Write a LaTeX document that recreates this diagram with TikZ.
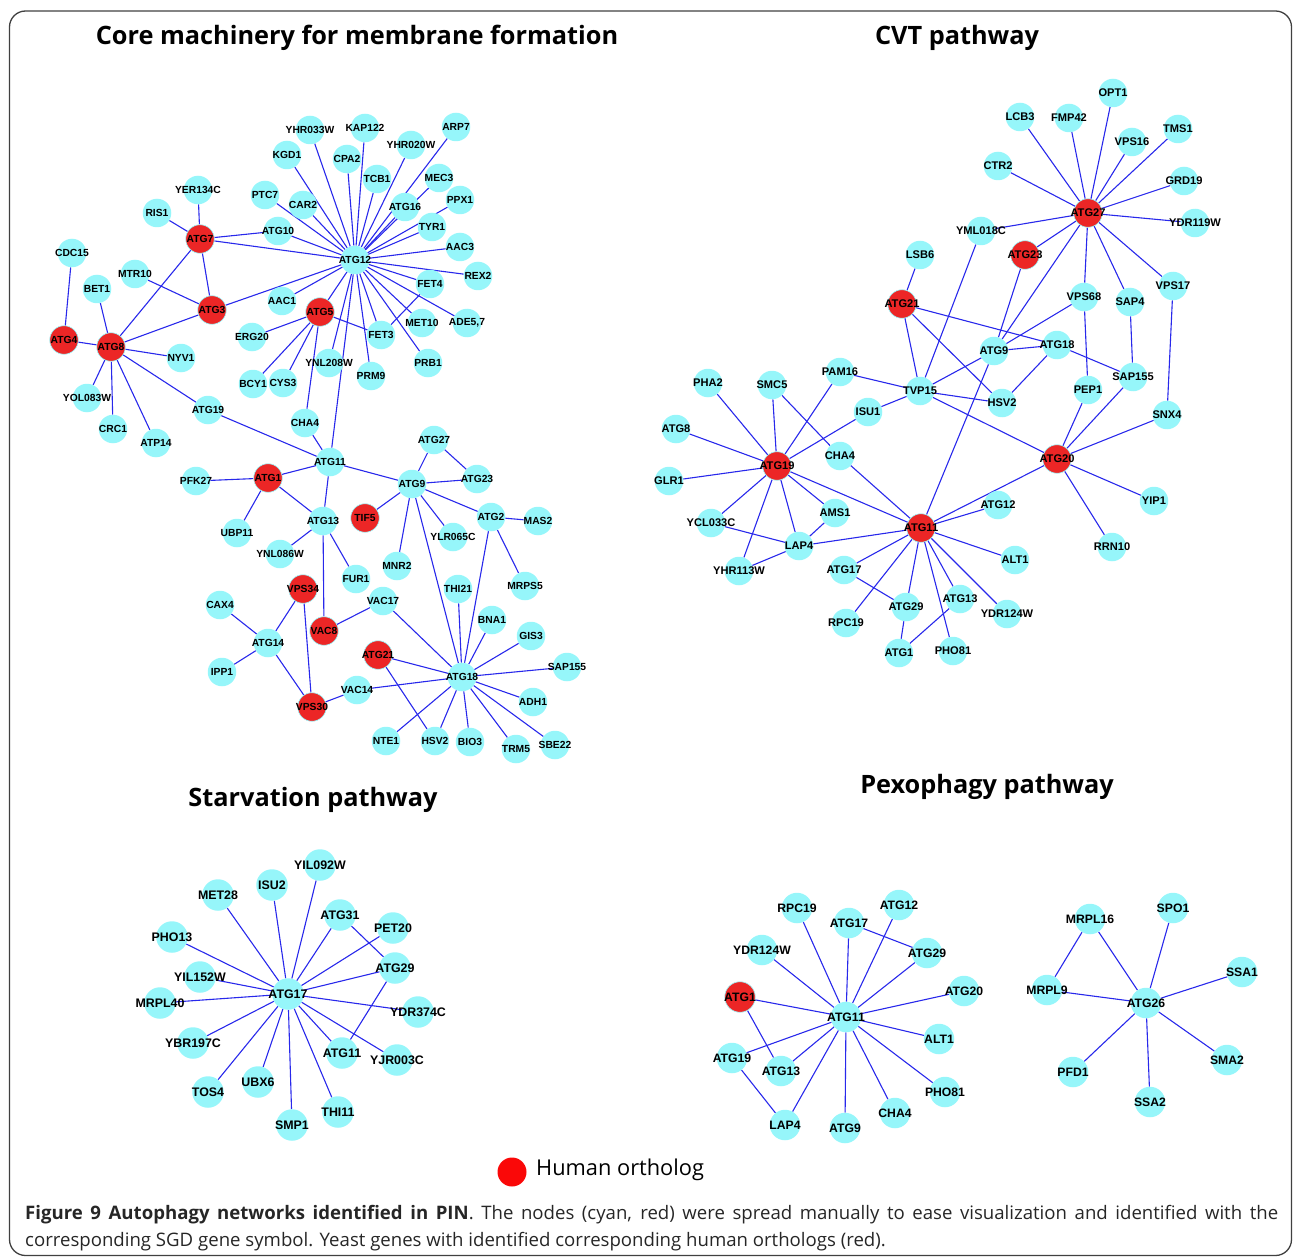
\documentclass[tikz,border=0pt]{standalone}
\usepackage{fontspec}
\setmainfont{Open Sans}
\newfontfamily\labfont{Liberation Sans}
\pgfdeclarelayer{bg}
\pgfsetlayers{bg,main}
\definecolor{cyn}{RGB}{150,246,250}
\definecolor{rd}{RGB}{236,38,38}
\definecolor{eb}{RGB}{40,40,235}
\definecolor{legred}{RGB}{250,8,8}
\tikzset{
 gene/.style={circle, minimum size=28.5pt, inner sep=0pt, fill=cyn, draw=none},
 hgene/.style={gene, fill=rd, draw=cyn, line width=0.6pt},
 lab/.style={font=\labfont\bfseries\fontsize{10.3}{11}\selectfont, inner sep=0pt, text=black},
 edge/.style={draw=eb, line width=1.1pt},
 ttl/.style={font=\bfseries\fontsize{25.3}{30}\selectfont, inner sep=0pt},
}
\newcommand\gc[3]{\node[gene, label={[lab]center:{#3}}] (#1) at (#2) {};}
\newcommand\gr[3]{\node[hgene, label={[lab]center:{#3}}] (#1) at (#2) {};}
\begin{document}
\begin{tikzpicture}[x=1pt,y=-1pt]
\useasboundingbox (0,0) rectangle (1293,1257);
\draw[line width=1.3pt, black!75, rounded corners=16pt] (9.5,11) rectangle (1291.5,1255.5);

% titles
\node[ttl] (t1) at (357,38) {Core machinery for membrane formation};
\node[ttl] (t2) at (957,38) {CVT pathway};
\node[ttl] (t3) at (313,800) {Starvation pathway};
\node[ttl] (t4) at (987,787) {Pexophagy pathway};

% ---------------- core network
\gc{ayhr033w}{310,130}{YHR033W}
\gc{akap122}{365,128}{KAP122}
\gc{akgd1}{287,155}{KGD1}
\gc{acpa2}{347,159}{CPA2}
\gc{ayhr020w}{411,145}{YHR020W}
\gc{aarp7}{456,127}{ARP7}
\gc{atcb1}{377,179}{TCB1}
\gc{amec3}{439,178}{MEC3}
\gc{aptc7}{265,195}{PTC7}
\gc{acar2}{303,205}{CAR2}
\gc{aatg16}{405,207}{ATG16}
\gc{appx1}{460,200}{PPX1}
\gc{ayer134c}{198,190}{YER134C}
\gc{aris1}{157,213}{RIS1}
\gr{aatg7}{200,239}{ATG7}
\gc{aatg10}{278,231}{ATG10}
\gc{atyr1}{432,227}{TYR1}
\gc{aaac3}{460,247}{AAC3}
\gc{aatg12}{355,260}{ATG12}
\gc{acdc15}{72,253}{CDC15}
\gc{arex2}{478,276}{REX2}
\gc{amtr10}{135,274}{MTR10}
\gc{abet1}{97,289}{BET1}
\gc{afet4}{430,284}{FET4}
\gc{aaac1}{282,301}{AAC1}
\gr{aatg3}{212,310}{ATG3}
\gr{aatg5}{320,312}{ATG5}
\gc{aade57}{467,323}{ADE5,7}
\gc{amet10}{422,323}{MET10}
\gc{afet3}{381,335}{FET3}
\gr{aatg4}{64,340}{ATG4}
\gr{aatg8}{111,347}{ATG8}
\gc{aerg20}{252,337}{ERG20}
\gc{anyv1}{181,358}{NYV1}
\gc{aynl208w}{329,363}{YNL208W}
\gc{aprm9}{371,376}{PRM9}
\gc{aprb1}{428,363}{PRB1}
\gc{abcy1}{253,384}{BCY1}
\gc{acys3}{283,383}{CYS3}
\gc{ayol083w}{87,398}{YOL083W}
\gc{aatg19}{208,410}{ATG19}
\gc{acrc1}{113,429}{CRC1}
\gc{aatp14}{156,443}{ATP14}
\gc{acha4}{305,423}{CHA4}
\gc{aatg11}{330,462}{ATG11}
\gc{aatg27}{434,440}{ATG27}
\gc{apfk27}{196,481}{PFK27}
\gr{aatg1}{268,478}{ATG1}
\gc{aatg23}{477,479}{ATG23}
\gc{aatg9}{412,484}{ATG9}
\gc{aatg13}{323,521}{ATG13}
\gr{atif5}{365,518}{TIF5}
\gc{aatg2}{491,517}{ATG2}
\gc{amas2}{538,521}{MAS2}
\gc{aubp11}{237,533}{UBP11}
\gc{aylr065c}{453,537}{YLR065C}
\gc{aynl086w}{280,554}{YNL086W}
\gc{amnr2}{397,566}{MNR2}
\gc{afur1}{356,579}{FUR1}
\gc{athi21}{458,589}{THI21}
\gc{amrps5}{525,586}{MRPS5}
\gr{avps34}{303,589}{VPS34}
\gc{acax4}{220,605}{CAX4}
\gc{avac17}{383,601}{VAC17}
\gc{abna1}{492,620}{BNA1}
\gr{avac8}{324,631}{VAC8}
\gc{agis3}{531,636}{GIS3}
\gc{aatg14}{268,643}{ATG14}
\gr{aatg21}{378,655}{ATG21}
\gc{aipp1}{222,672}{IPP1}
\gc{asap155}{567,667}{SAP155}
\gc{aatg18}{462,677}{ATG18}
\gc{avac14}{357,690}{VAC14}
\gc{aadh1}{533,702}{ADH1}
\gr{avps30}{312,707}{VPS30}
\gc{ante1}{386,741}{NTE1}
\gc{ahsv2}{435,741}{HSV2}
\gc{abio3}{470,742}{BIO3}
\gc{atrm5}{516,749}{TRM5}
\gc{asbe22}{555,745}{SBE22}

% ---------------- CVT network
\tikzset{lab/.style={font=\labfont\bfseries\fontsize{11.1}{12}\selectfont, inner sep=0pt, text=black}}
\gc{bopt1}{1113,93}{OPT1}
\gc{blcb3}{1020,117}{LCB3}
\gc{bfmp42}{1069,118}{FMP42}
\gc{btms1}{1178,129}{TMS1}
\gc{bvps16}{1132,142}{VPS16}
\gc{bctr2}{998,166}{CTR2}
\gc{bgrd19}{1184,181}{GRD19}
\gr{batg27}{1088,213}{ATG27}
\gc{bydr119w}{1195,223}{YDR119W}
\gc{byml018c}{981,231}{YML018C}
\gr{batg23}{1025,255}{ATG23}
\gc{blsb6}{920,255}{LSB6}
\gc{bvps17}{1173,286}{VPS17}
\gc{bvps68}{1084,297}{VPS68}
\gc{bsap4}{1130,302}{SAP4}
\gr{batg21}{902,304}{ATG21}
\gc{batg18}{1057,345}{ATG18}
\gc{batg9}{994,351}{ATG9}
\gc{bsap155}{1133,377}{SAP155}
\gc{bpam16}{840,372}{PAM16}
\gc{bpha2}{708,383}{PHA2}
\gc{bsmc5}{772,385}{SMC5}
\gc{btvp15}{920,391}{TVP15}
\gc{bpep1}{1088,390}{PEP1}
\gc{bhsv2}{1002,403}{HSV2}
\gc{bisu1}{868,412}{ISU1}
\gc{bsnx4}{1167,415}{SNX4}
\gc{batg8}{676,429}{ATG8}
\gc{bglr1}{669,481}{GLR1}
\gr{batg19}{777,466}{ATG19}
\gc{bcha4}{840,456}{CHA4}
\gr{batg20}{1057,459}{ATG20}
\gc{byip1}{1154,501}{YIP1}
\gc{batg12}{998,505}{ATG12}
\gc{bams1}{835,513}{AMS1}
\gc{bycl033c}{711,523}{YCL033C}
\gr{batg11}{921,528}{ATG11}
\gc{blap4}{799,546}{LAP4}
\gc{brrn10}{1112,547}{RRN10}
\gc{balt1}{1015,560}{ALT1}
\gc{batg17}{844,570}{ATG17}
\gc{byhr113w}{739,571}{YHR113W}
\gc{batg29}{906,607}{ATG29}
\gc{batg13}{960,599}{ATG13}
\gc{bydr124w}{1007,614}{YDR124W}
\gc{brpc19}{846,623}{RPC19}
\gc{batg1}{899,653}{ATG1}
\gc{bpho81}{953,651}{PHO81}

% ---------------- Starvation
\tikzset{lab/.style={font=\labfont\bfseries\fontsize{12.4}{13}\selectfont, inner sep=0pt, text=black},
 gene/.style={circle, minimum size=31.5pt, inner sep=0pt, fill=cyn, draw=none}}
\gc{syil092w}{320,865}{YIL092W}
\gc{sisu2}{272,885}{ISU2}
\gc{smet28}{218,895}{MET28}
\gc{satg31}{340,915}{ATG31}
\gc{spet20}{393,928}{PET20}
\gc{spho13}{172,937}{PHO13}
\gc{satg29}{395,968}{ATG29}
\gc{syil152w}{200,977}{YIL152W}
\gc{satg17}{288,994}{ATG17}
\gc{smrpl40}{160,1003}{MRPL40}
\gc{sydr374c}{418,1012}{YDR374C}
\gc{sybr197c}{193,1043}{YBR197C}
\gc{satg11}{342,1053}{ATG11}
\gc{syjr003c}{397,1060}{YJR003C}
\gc{subx6}{258,1082}{UBX6}
\gc{stos4}{208,1092}{TOS4}
\gc{sthi11}{338,1112}{THI11}
\gc{ssmp1}{292,1125}{SMP1}

% ---------------- Pexophagy
\tikzset{lab/.style={font=\labfont\bfseries\fontsize{12.2}{13}\selectfont, inner sep=0pt, text=black},
 gene/.style={circle, minimum size=30.5pt, inner sep=0pt, fill=cyn, draw=none}}
\gc{prpc19}{797,908}{RPC19}
\gc{patg12}{899,905}{ATG12}
\gc{patg17}{849,923}{ATG17}
\gc{pydr124w}{762,950}{YDR124W}
\gc{patg29}{927,953}{ATG29}
\gr{patg1}{740,997}{ATG1}
\gc{patg20}{964,991}{ATG20}
\gc{patg11}{846,1017}{ATG11}
\gc{palt1}{939,1039}{ALT1}
\gc{patg19}{732,1058}{ATG19}
\gc{patg13}{781,1071}{ATG13}
\gc{ppho81}{945,1092}{PHO81}
\gc{pcha4}{895,1113}{CHA4}
\gc{plap4}{785,1125}{LAP4}
\gc{patg9}{845,1128}{ATG9}
\gc{pspo1}{1173,908}{SPO1}
\gc{pmrpl16}{1090,919}{MRPL16}
\gc{pssa1}{1242,972}{SSA1}
\gc{pmrpl9}{1047,990}{MRPL9}
\gc{patg26}{1146,1003}{ATG26}
\gc{psma2}{1227,1060}{SMA2}
\gc{ppfd1}{1073,1072}{PFD1}
\gc{pssa2}{1150,1102}{SSA2}

% ---------------- edges
\begin{pgfonlayer}{bg}
% core
\foreach \t in {ayhr033w,akap122,akgd1,acpa2,atcb1,ayhr020w,aarp7,amec3,aatg16,appx1,atyr1,aaac3,arex2,afet4,amet10,aade57,aprb1,aprm9,afet3,aynl208w,aatg5,aaac1,acar2,aptc7,aatg10,aatg7,aatg3,aatg11}
  \draw[edge] (aatg12) -- (\t);
\draw[edge] (afet4) -- (afet3);
\foreach \t in {aerg20,abcy1,acys3,acha4,afet3}
  \draw[edge] (aatg5) -- (\t);
\foreach \t in {aatg4,abet1,aatg7,aatg3,anyv1,ayol083w,acrc1,aatp14,aatg19}
  \draw[edge] (aatg8) -- (\t);
\draw[edge] (aatg4) -- (acdc15);
\draw[edge] (aatg3) -- (amtr10);
\draw[edge] (aatg3) -- (aatg7);
\draw[edge] (aatg7) -- (aris1);
\draw[edge] (aatg7) -- (ayer134c);
\draw[edge] (aatg7) -- (aatg10);
\foreach \t in {aatg19,acha4,aatg1,aatg13,aatg9}
  \draw[edge] (aatg11) -- (\t);
\foreach \t in {apfk27,aubp11,aatg13}
  \draw[edge] (aatg1) -- (\t);
\foreach \t in {aynl086w,afur1,avac8}
  \draw[edge] (aatg13) -- (\t);
\foreach \t in {aatg27,aatg23,atif5,amnr2,aylr065c,aatg2,aatg18}
  \draw[edge] (aatg9) -- (\t);
\draw[edge] (aatg27) -- (aatg23);
\foreach \t in {amas2,amrps5,aatg18}
  \draw[edge] (aatg2) -- (\t);
\foreach \t in {athi21,abna1,agis3,asap155,aadh1,asbe22,atrm5,abio3,ahsv2,ante1,avac14,avac17,aatg21}
  \draw[edge] (aatg18) -- (\t);
\draw[edge] (aatg21) -- (ahsv2);
\draw[edge] (avac17) -- (avac8);
\foreach \t in {avac14,avps34,aatg14}
  \draw[edge] (avps30) -- (\t);
\foreach \t in {acax4,aipp1,avps34}
  \draw[edge] (aatg14) -- (\t);
% cvt
\foreach \t in {blcb3,bfmp42,bopt1,bvps16,btms1,bgrd19,bydr119w,bctr2,byml018c,batg23,batg9,bvps68,bsap4,bvps17}
  \draw[edge] (batg27) -- (\t);
\foreach \t in {blsb6,batg18,btvp15,bhsv2}
  \draw[edge] (batg21) -- (\t);
\draw[edge] (byml018c) -- (btvp15);
\draw[edge] (batg23) -- (batg9);
\draw[edge] (bvps68) -- (batg9);
\foreach \t in {batg18,btvp15,batg11}
  \draw[edge] (batg9) -- (\t);
\draw[edge] (batg18) -- (bhsv2);
\draw[edge] (batg18) -- (bsap155);
\draw[edge] (bvps68) -- (bpep1);
\draw[edge] (bsap4) -- (bsap155);
\draw[edge] (bvps17) -- (bsnx4);
\foreach \t in {bpep1,bsap155,bsnx4,btvp15,batg11,byip1,brrn10}
  \draw[edge] (batg20) -- (\t);
\foreach \t in {bpam16,bhsv2,bisu1}
  \draw[edge] (btvp15) -- (\t);
\foreach \t in {bpam16,bisu1,bsmc5,bpha2,batg8,bglr1,bycl033c,byhr113w,blap4,bams1,batg11}
  \draw[edge] (batg19) -- (\t);
\draw[edge] (bsmc5) -- (bcha4);
\draw[edge] (bcha4) -- (batg11);
\draw[edge] (bycl033c) -- (blap4);
\draw[edge] (byhr113w) -- (blap4);
\draw[edge] (blap4) -- (bams1);
\draw[edge] (blap4) -- (batg11);
\foreach \t in {batg12,balt1,bydr124w,batg13,bpho81,batg29,batg17,brpc19}
  \draw[edge] (batg11) -- (\t);
\draw[edge] (batg17) -- (batg29);
\draw[edge] (batg29) -- (batg1);
\draw[edge] (batg1) -- (batg13);
% starvation
\foreach \t in {syil092w,sisu2,smet28,satg31,spet20,spho13,satg29,syil152w,smrpl40,sydr374c,sybr197c,satg11,syjr003c,subx6,stos4,sthi11,ssmp1}
  \draw[edge] (satg17) -- (\t);
\draw[edge] (satg31) -- (satg29);
\draw[edge] (satg29) -- (satg11);
% pexophagy
\foreach \t in {prpc19,patg17,patg12,pydr124w,patg29,patg1,patg20,palt1,patg19,patg13,ppho81,pcha4,plap4,patg9}
  \draw[edge] (patg11) -- (\t);
\draw[edge] (patg17) -- (patg29);
\draw[edge] (patg1) -- (patg13);
\draw[edge] (patg19) -- (plap4);
\foreach \t in {pmrpl16,pspo1,pmrpl9,pssa1,ppfd1,pssa2,psma2}
  \draw[edge] (patg26) -- (\t);
\draw[edge] (pmrpl16) -- (pmrpl9);
\end{pgfonlayer}

% legend
\node[circle, fill=legred, minimum size=29pt, inner sep=0pt] (legdot) at (512,1172) {};
\node[anchor=west, inner sep=0pt, font=\fontsize{21.8}{24}\selectfont] (legtxt) at (536,1170) {Human ortholog};

% caption
\node[anchor=base west, inner sep=0pt, text=black!85, font=\fontsize{18.6}{22}\selectfont] (cap1) at (25,1219)
 {\makebox[1253pt][s]{\textbf{Figure 9 Autophagy networks identified in PIN}. The nodes (cyan, red) were spread manually to ease visualization and identified with the}};
\node[anchor=base west, inner sep=0pt, text=black!85, font=\fontsize{18.6}{22}\selectfont] (cap2) at (25,1246)
 {corresponding SGD gene symbol. Yeast genes with identified corresponding human orthologs (red).};
\end{tikzpicture}
\end{document}
